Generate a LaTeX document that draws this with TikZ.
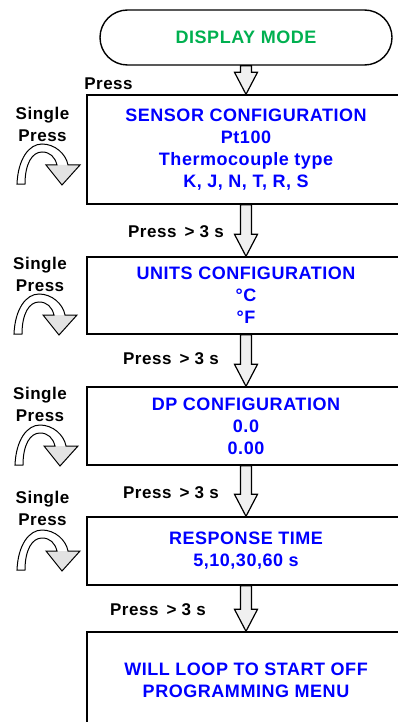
\documentclass[tikz,border=0pt]{standalone}
\usepackage{fontspec}
\setmainfont{Liberation Sans}[LetterSpace=3]
\usepackage{tikz}
\usetikzlibrary{positioning,calc}
\usetikzlibrary{shapes}

\definecolor{modegreen}{RGB}{0,176,80}
\definecolor{menublue}{RGB}{0,0,255}

% hollow down arrow between two menu boxes
\newcommand{\pressarrow}[2]{%
  \draw[fatarrow] let \p1=(#1.south), \p2=(#2.north) in
    (\x1-5.5pt,\y1) -- (\x1+5.5pt,\y1) -- (\x1+5.5pt,\y2+22pt) -- (\x1+11.5pt,\y2+22pt)
    -- (\x1,\y2) -- (\x1-11.5pt,\y2+22pt) -- (\x1-5.5pt,\y2+22pt) -- cycle;}

\tikzset{
  curl/.pic={
    \fill[white]
      (0,0) .. controls (1,-25) and (12,-40) .. (25,-40)
      .. controls (38,-40) and (49,-30) .. (51,-19)
      -- (40,-19)
      .. controls (38,-27) and (33,-32) .. (25,-32)
      .. controls (15,-32) and (8,-20) .. (8,0) -- cycle;
    \fill[gray!22] (29,-19) -- (63,-19) -- (45,1) -- cycle;
    \draw[line width=1pt]
      (0,0) .. controls (1,-25) and (12,-40) .. (25,-40)
      .. controls (38,-40) and (49,-30) .. (51,-19)
      -- (63,-19) -- (45,1) -- (29,-19) -- (40,-19)
      .. controls (38,-27) and (33,-32) .. (25,-32)
      .. controls (15,-32) and (8,-20) .. (8,0) -- cycle;
  }
}

\begin{document}
\begin{tikzpicture}[x=1pt,y=-1pt,node distance=120pt,on grid,
    start/.style={draw,line width=1.4pt,rounded corners=27.5pt,minimum width=292pt,
      minimum height=55pt,text=modegreen,font=\fontsize{18}{22}\selectfont\bfseries},
    menu/.style={draw,line width=1.4pt,minimum width=318pt,align=center,
      text=menublue,font=\fontsize{18}{22}\selectfont\bfseries},
    hint/.style={align=center,inner sep=0pt,font=\fontsize{17}{22}\selectfont\bfseries},
    fatarrow/.style={draw,line width=1.2pt,fill=gray!12}]
   \useasboundingbox (0,0) rectangle (398,722);
   \fill[white] (0,0) rectangle (398,722);
   \clip (0,0) rectangle (398,722);

   \node[start] (m_0) at (246,37.5) {DISPLAY MODE};
   \node[menu,minimum height=109pt](m_1) [below=112pt of m_0]
     {SENSOR CONFIGURATION\\Pt100\\Thermocouple type\\K, J, N, T, R, S};
   \node[menu,minimum height=77pt](m_2) [below=146pt of m_1]
     {UNITS CONFIGURATION\\°C\\°F};
   \node[menu,minimum height=78pt](m_3) [below=130.5pt of m_2]
     {DP CONFIGURATION\\0.0\\0.00};
   \node[menu,minimum height=68pt](m_4) [below=125pt of m_3]
     {RESPONSE TIME\\5,10,30,60 s};
   \node[menu,minimum height=97pt](m_5) [below=129.5pt of m_4]
     {WILL LOOP TO START OFF\\PROGRAMMING MENU};

   \pressarrow{m_0}{m_1}
   \pressarrow{m_1}{m_2}
   \pressarrow{m_2}{m_3}
   \pressarrow{m_3}{m_4}
   \pressarrow{m_4}{m_5}

   \node[hint] (p_1) at (108.5,84) {Press};
   \node[hint] (p_2) at (176,232) {Press \,> 3 s};
   \node[hint] (p_3) at (171,359) {Press \,> 3 s};
   \node[hint] (p_4) at (171,493) {Press \,> 3 s};
   \node[hint] (p_5) at (158,610) {Press \,> 3 s};

   \node[hint] (s_1) at (42.5,124.5) {Single\\Press};
   \node[hint] (s_2) at (40,274) {Single\\Press};
   \node[hint] (s_3) at (40,404) {Single\\Press};
   \node[hint] (s_4) at (42.5,508.5) {Single\\Press};

   \pic at (17,184) {curl};
   \pic at (14,334) {curl};
   \pic at (15,465) {curl};
   \pic at (17,570) {curl};
\end{tikzpicture}
\end{document}
